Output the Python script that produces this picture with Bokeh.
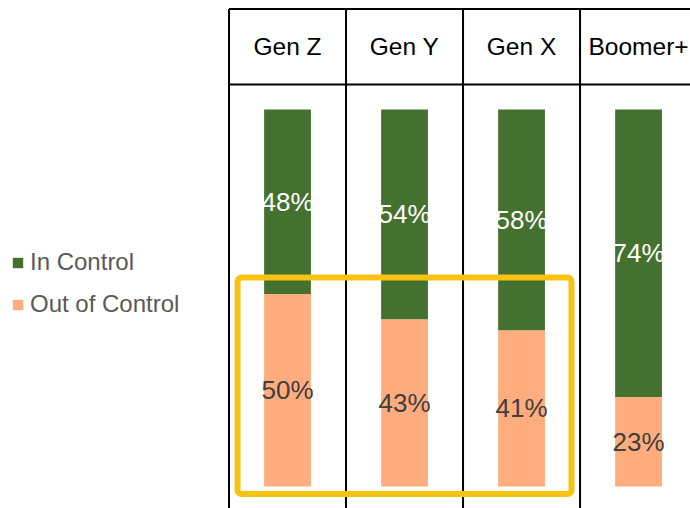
from bokeh.plotting import figure
from bokeh.models import (ColumnDataSource, Range1d, Legend, LegendItem, BoxAnnotation)
from bokeh.core.properties import value
from bokeh.embed import file_html
from bokeh.resources import INLINE

generations = ["Gen Z", "Gen Y", "Gen X", "Boomer+"]
in_control = [48, 54, 58, 74]
out_of_control = [50, 43, 41, 23]

GREEN = "#44712F"
PEACH = "#FFAC7E"
GOLD = "#F6C312"
FONT = "Liberation Sans"

xs = list(range(len(generations)))
totals = [a + b for a, b in zip(in_control, out_of_control)]
out_share = [o / t for o, t in zip(out_of_control, totals)]
in_share = [i / t for i, t in zip(in_control, totals)]

src = ColumnDataSource(dict(
    x=xs,
    gen=generations,
    out_share=out_share,
    in_share=in_share,
    out_mid=[s / 2 for s in out_share],
    in_mid=[o + i / 2 for o, i in zip(out_share, in_share)],
    out_lbl=[f"{v}%" for v in out_of_control],
    in_lbl=[f"{v}%" for v in in_control],
))

p = figure(width=690, height=508, output_backend="svg", toolbar_location=None,
           x_range=Range1d(-2.453, 3.444), y_range=Range1d(-0.0584, 1.289),
           min_border=0, outline_line_color=None)
p.axis.visible = False
p.grid.visible = False

bw = 0.4
r_out, r_in = p.vbar_stack(["out_share", "in_share"], x="x", width=bw, source=src,
                           color=[PEACH, GREEN], line_color=None)

# table grid (header row + column dividers)
header_top, header_bottom, header_mid = 1.2666, 1.0663, 1.1671
bounds = [x - 0.5 for x in xs]
p.segment(x0=bounds, x1=bounds, y0=[header_top] * len(bounds), y1=[-0.0584] * len(bounds),
          line_color="black", line_width=2)
p.segment(x0=[bounds[0]] * 2, x1=[3.444] * 2, y0=[header_top, header_bottom],
          y1=[header_top, header_bottom], line_color="black", line_width=2)

p.text(x="x", y=header_mid, text="gen", source=src, text_align="center",
       text_baseline="middle", text_font=value(FONT), text_font_size="24.5px",
       text_color="black")

p.text(x="x", y="in_mid", text="in_lbl", source=src, text_align="center",
       text_baseline="middle", text_font=value(FONT), text_font_size="26px",
       text_color="white")
p.text(x="x", y="out_mid", text="out_lbl", source=src, text_align="center",
       text_baseline="middle", text_font=value(FONT), text_font_size="26px",
       text_color="#404040")

# highlight box
p.add_layout(BoxAnnotation(left=-0.427, right=2.427, bottom=-0.02, top=0.554,
                           fill_alpha=0, line_color=GOLD, line_alpha=1.0, line_width=6,
                           border_radius=4))

legend = Legend(items=[LegendItem(label="In Control", renderers=[r_in]),
                       LegendItem(label="Out of Control", renderers=[r_out])],
                location=(11, 190), orientation="vertical",
                label_text_font=FONT, label_text_font_size="24px",
                label_text_color="#595959", glyph_width=13, glyph_height=13,
                label_standoff=6, spacing=14, padding=0, margin=0,
                border_line_color=None, background_fill_alpha=0)
p.add_layout(legend, "center")

open("out.html", "w").write(file_html(p, INLINE))
